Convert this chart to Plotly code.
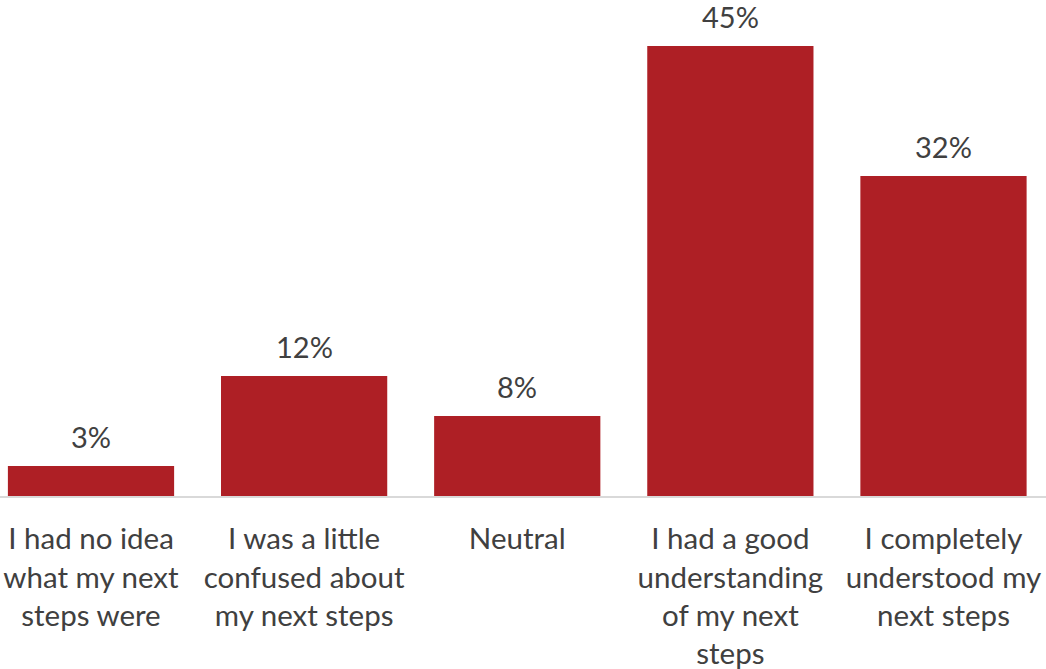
import plotly.graph_objects as go

categories = [
    "I had no idea<br>what my next<br>steps were",
    "I was a little<br>confused about<br>my next steps",
    "Neutral",
    "I had a good<br>understanding<br>of my next<br>steps",
    "I completely<br>understood my<br>next steps",
]
values = [3, 12, 8, 45, 32]
value_labels = ["3%", "12%", "8%", "45%", "32%"]

BAR_COLOR = "#AE1F25"
TEXT_COLOR = "#404040"
FONT = "Lato"

fig = go.Figure(
    go.Bar(
        x=list(range(len(categories))),
        y=values,
        marker=dict(color=BAR_COLOR, line=dict(width=0)),
        width=0.78,
    )
)

# value labels above each bar
for i, (v, lab) in enumerate(zip(values, value_labels)):
    fig.add_annotation(
        x=i, y=v, text=lab, showarrow=False,
        yanchor="bottom", yshift=11, borderpad=0,
        font=dict(family=FONT, size=29, color=TEXT_COLOR),
    )

fig.update_layout(
    width=1046, height=669,
    margin=dict(l=0, r=0, t=0, b=173),
    paper_bgcolor="white", plot_bgcolor="white",
    showlegend=False,
    font=dict(family=FONT, size=29.5, color=TEXT_COLOR),
)
fig.update_xaxes(
    range=[-0.427, 4.481],
    tickmode="array",
    tickvals=list(range(len(categories))),
    ticktext=categories,
    showline=True, linecolor="#D9D9D9", linewidth=2,
    ticks="", showgrid=False, zeroline=False,
    ticklabelstandoff=16,
    automargin=False,
    tickfont=dict(family=FONT, size=29.5, color=TEXT_COLOR),
)
fig.update_yaxes(
    range=[0, 49.6], visible=False, showgrid=False, zeroline=False,
    automargin=False,
)

fig.write_html("out.html")
